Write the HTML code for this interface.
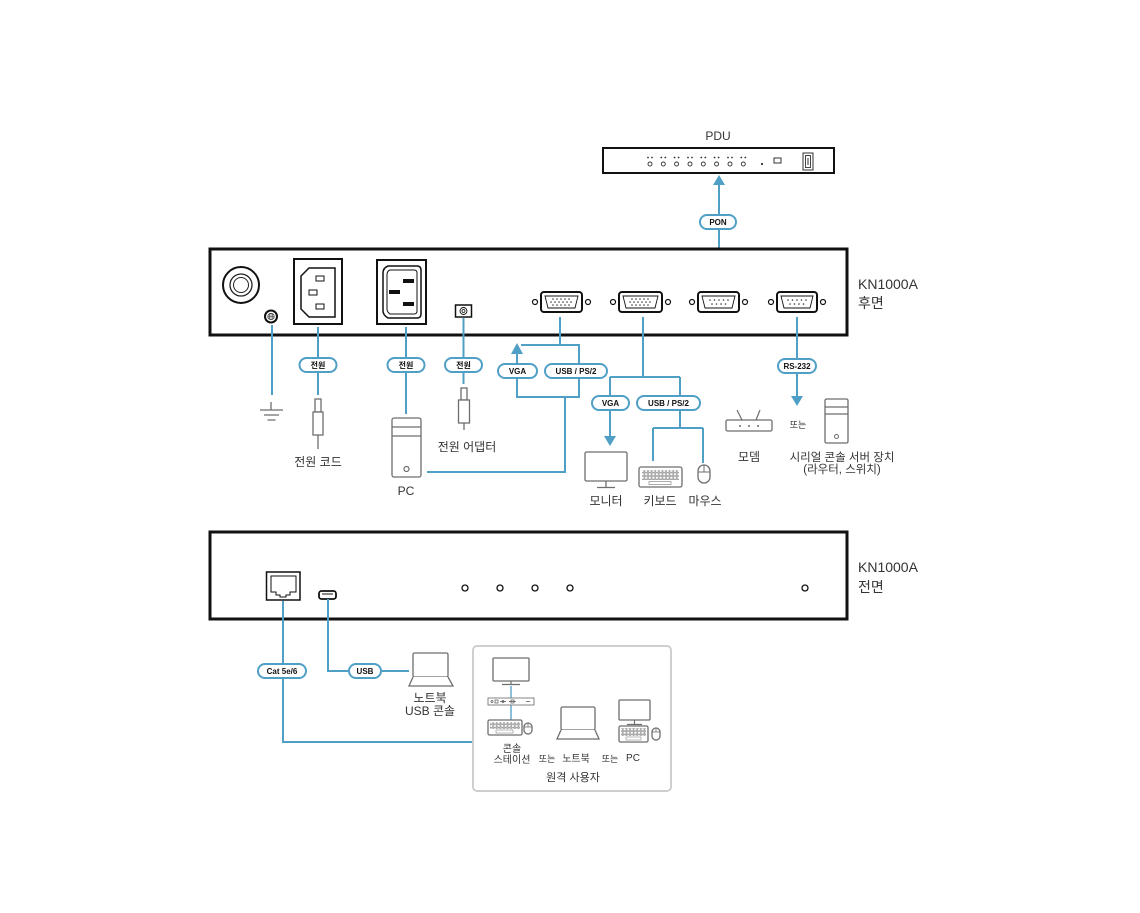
<!DOCTYPE html>
<html><head><meta charset="utf-8"><style>
html,body{margin:0;padding:0;background:#fff;}
svg{display:block;}
text{font-family:"Liberation Sans","Noto Sans CJK KR",sans-serif;fill:#333;}
.pt{font-size:8px;font-weight:bold;fill:#111;text-anchor:middle;}
.lb{font-size:12px;text-anchor:middle;}
.sm{font-size:10px;text-anchor:middle;}
.bl{stroke:#4f9fc6;stroke-width:2;fill:none;}
.dv{stroke:#6e6e6e;stroke-width:1.3;fill:#fff;}
.pill{fill:#fff;stroke:#4f9fc6;stroke-width:2;}
.ar{fill:#4f9fc6;}
.blk{stroke:#111;fill:none;}
</style></head><body>
<svg width="1140" height="913" viewBox="0 0 1140 913" xmlns="http://www.w3.org/2000/svg">
<defs>
<pattern id="keys" width="3.6" height="3.4" patternUnits="userSpaceOnUse">
<rect x="0.4" y="0.4" width="2.8" height="2.6" fill="none" stroke="#777" stroke-width="0.5"/>
</pattern>
</defs>
<rect width="1140" height="913" fill="#fff"/>

<!-- PDU -->
<text x="718" y="140" class="lb">PDU</text>
<rect x="603" y="148" width="231" height="25" fill="#fff" stroke="#111" stroke-width="2"/>
<g fill="none" stroke="#333" stroke-width="0.9">
<circle cx="650" cy="164" r="2"/><circle cx="663.3" cy="164" r="2"/><circle cx="676.6" cy="164" r="2"/><circle cx="690" cy="164" r="2"/>
<circle cx="703.3" cy="164" r="2"/><circle cx="716.6" cy="164" r="2"/><circle cx="730" cy="164" r="2"/><circle cx="743.3" cy="164" r="2"/>
</g>
<g fill="#333">
<circle cx="648" cy="157.5" r="0.9"/><circle cx="652" cy="157.5" r="0.9"/>
<circle cx="661.3" cy="157.5" r="0.9"/><circle cx="665.3" cy="157.5" r="0.9"/>
<circle cx="674.6" cy="157.5" r="0.9"/><circle cx="678.6" cy="157.5" r="0.9"/>
<circle cx="688" cy="157.5" r="0.9"/><circle cx="692" cy="157.5" r="0.9"/>
<circle cx="701.3" cy="157.5" r="0.9"/><circle cx="705.3" cy="157.5" r="0.9"/>
<circle cx="714.6" cy="157.5" r="0.9"/><circle cx="718.6" cy="157.5" r="0.9"/>
<circle cx="728" cy="157.5" r="0.9"/><circle cx="732" cy="157.5" r="0.9"/>
<circle cx="741.3" cy="157.5" r="0.9"/><circle cx="745.3" cy="157.5" r="0.9"/>
<circle cx="762" cy="164" r="1.1"/>
</g>
<rect x="774" y="158" width="7" height="5" fill="none" stroke="#333" stroke-width="1"/>
<rect x="803" y="153" width="10" height="17" fill="none" stroke="#333" stroke-width="1"/>
<rect x="805.5" y="155.5" width="5" height="12" fill="none" stroke="#333" stroke-width="0.9"/>
<line x1="808" y1="158" x2="808" y2="165" stroke="#333" stroke-width="1"/>

<!-- PON line -->
<path class="bl" d="M719,290 V183"/>
<polygon class="ar" points="719,175 713,185 725,185"/>
<rect class="pill" x="700" y="215" width="36" height="14" rx="7"/>
<text x="718" y="225" class="pt">PON</text>

<!-- REAR PANEL -->
<rect x="210" y="249" width="637" height="86" fill="#fff" stroke="#111" stroke-width="3"/>
<circle cx="241" cy="285" r="18" fill="none" stroke="#111" stroke-width="2"/>
<circle cx="241" cy="285" r="11" fill="none" stroke="#222" stroke-width="1.3"/>
<circle cx="241" cy="285" r="7.5" fill="none" stroke="#222" stroke-width="1"/>
<circle cx="271" cy="316.5" r="6" fill="none" stroke="#111" stroke-width="2"/>
<circle cx="271" cy="316.5" r="3.2" fill="none" stroke="#333" stroke-width="0.8"/>
<path d="M268,316.5 H274 M271,313.5 V319.5 M269.5,314 V319 M272.5,314 V319" stroke="#333" stroke-width="0.6"/>

<!-- C14 -->
<rect x="294" y="259" width="48" height="65" fill="#fff" stroke="#111" stroke-width="2"/>
<path d="M309,268 H335 V317 H309 L301,309 V276 Z" fill="none" stroke="#111" stroke-width="1.5"/>
<rect x="316" y="276" width="8" height="5" fill="none" stroke="#111" stroke-width="1"/>
<rect x="309" y="290" width="8" height="5" fill="none" stroke="#111" stroke-width="1"/>
<rect x="316" y="304" width="8" height="5" fill="none" stroke="#111" stroke-width="1"/>

<!-- C20 -->
<rect x="377" y="260" width="49" height="64" fill="#fff" stroke="#111" stroke-width="2"/>
<path d="M388,266 H417 Q421,266 421,270 V314 Q421,318 417,318 H388 Q383,315 383,311 V273 Q383,268 388,266 Z" fill="none" stroke="#111" stroke-width="1.5"/>
<path d="M390,270 H414 Q417,270 417,273 V311 Q417,314 414,314 H390 Q387,312 387,309 V275 Q387,271 390,270 Z" fill="none" stroke="#111" stroke-width="1"/>
<rect x="403" y="279" width="11" height="4" fill="#111"/>
<rect x="389" y="290" width="11" height="4" fill="#111"/>
<rect x="403" y="302" width="11" height="4" fill="#111"/>

<!-- DC jack -->
<rect x="455.5" y="305" width="16" height="12" fill="none" stroke="#111" stroke-width="1.5"/>
<circle cx="463.5" cy="311" r="3.5" fill="none" stroke="#111" stroke-width="0.9"/>
<circle cx="463.5" cy="311" r="1.5" fill="none" stroke="#111" stroke-width="0.8"/>

<!-- VGA 1 -->
<g stroke="#111" fill="none">
<circle cx="535" cy="302" r="2.5" stroke-width="1.2"/><circle cx="588" cy="302" r="2.5" stroke-width="1.2"/>
<rect x="541" y="292" width="41" height="20" rx="3" stroke-width="2"/>
<path d="M545,296 H578 L575,308 H548 Z" stroke-width="0.9"/>
<circle cx="613" cy="302" r="2.5" stroke-width="1.2"/><circle cx="668" cy="302" r="2.5" stroke-width="1.2"/>
<rect x="619" y="292" width="43" height="20" rx="3" stroke-width="2"/>
<path d="M623,296 H658 L655,308 H626 Z" stroke-width="0.9"/>
<circle cx="692" cy="302" r="2.5" stroke-width="1.2"/><circle cx="745" cy="302" r="2.5" stroke-width="1.2"/>
<rect x="698" y="292" width="41" height="20" rx="3" stroke-width="2"/>
<path d="M702,296 H735 L732,308 H705 Z" stroke-width="0.9"/>
<circle cx="771" cy="302" r="2.5" stroke-width="1.2"/><circle cx="823" cy="302" r="2.5" stroke-width="1.2"/>
<rect x="777" y="292" width="40" height="20" rx="3" stroke-width="2"/>
<path d="M781,296 H813 L810,308 H784 Z" stroke-width="0.9"/>
</g>
<g fill="#333">
<circle cx="553" cy="299" r="0.8"/><circle cx="557" cy="299" r="0.8"/><circle cx="561" cy="299" r="0.8"/><circle cx="565" cy="299" r="0.8"/><circle cx="569" cy="299" r="0.8"/>
<circle cx="551" cy="302" r="0.8"/><circle cx="555" cy="302" r="0.8"/><circle cx="559" cy="302" r="0.8"/><circle cx="563" cy="302" r="0.8"/><circle cx="567" cy="302" r="0.8"/><circle cx="571" cy="302" r="0.8"/>
<circle cx="553" cy="305" r="0.8"/><circle cx="557" cy="305" r="0.8"/><circle cx="561" cy="305" r="0.8"/><circle cx="565" cy="305" r="0.8"/><circle cx="569" cy="305" r="0.8"/>
<circle cx="632" cy="299" r="0.8"/><circle cx="636" cy="299" r="0.8"/><circle cx="640" cy="299" r="0.8"/><circle cx="644" cy="299" r="0.8"/><circle cx="648" cy="299" r="0.8"/>
<circle cx="630" cy="302" r="0.8"/><circle cx="634" cy="302" r="0.8"/><circle cx="638" cy="302" r="0.8"/><circle cx="642" cy="302" r="0.8"/><circle cx="646" cy="302" r="0.8"/><circle cx="650" cy="302" r="0.8"/>
<circle cx="632" cy="305" r="0.8"/><circle cx="636" cy="305" r="0.8"/><circle cx="640" cy="305" r="0.8"/><circle cx="644" cy="305" r="0.8"/><circle cx="648" cy="305" r="0.8"/>
<circle cx="710" cy="300" r="0.8"/><circle cx="714.5" cy="300" r="0.8"/><circle cx="719" cy="300" r="0.8"/><circle cx="723.5" cy="300" r="0.8"/><circle cx="728" cy="300" r="0.8"/>
<circle cx="712" cy="304" r="0.8"/><circle cx="716.5" cy="304" r="0.8"/><circle cx="721" cy="304" r="0.8"/><circle cx="725.5" cy="304" r="0.8"/>
<circle cx="788" cy="300" r="0.8"/><circle cx="792.5" cy="300" r="0.8"/><circle cx="797" cy="300" r="0.8"/><circle cx="801.5" cy="300" r="0.8"/><circle cx="806" cy="300" r="0.8"/>
<circle cx="790" cy="304" r="0.8"/><circle cx="794.5" cy="304" r="0.8"/><circle cx="799" cy="304" r="0.8"/><circle cx="803.5" cy="304" r="0.8"/>
</g>
<text x="858" y="289" style="font-size:14px;">KN1000A</text>
<text x="858" y="308" style="font-size:14px;">후면</text>

<!-- Rear connections -->
<path class="bl" d="M272,325 V395"/>
<path d="M271,402 V410 M260,410 H283 M264,415 H279 M267.5,420 H275.5" stroke="#6e6e6e" stroke-width="1.3" fill="none"/>

<path class="bl" d="M318,327 V395"/>
<rect class="dv" x="315" y="399" width="6" height="13"/>
<rect class="dv" x="313" y="412" width="10" height="23"/>
<path d="M318,435 V449" stroke="#6e6e6e" stroke-width="1.3"/>
<rect class="pill" x="299.5" y="358" width="37" height="14" rx="7"/>
<text x="318" y="368" class="pt">전원</text>
<text x="318" y="466" class="lb">전원 코드</text>

<path class="bl" d="M406,327 V414"/>
<rect class="pill" x="387.5" y="358" width="37" height="14" rx="7"/>
<text x="406" y="368" class="pt">전원</text>
<rect class="dv" x="392" y="418" width="29" height="59" rx="2"/>
<path d="M392,427 H421 M392,436 H421" stroke="#6e6e6e" stroke-width="1.3"/>
<circle cx="406.5" cy="469" r="2.5" fill="none" stroke="#6e6e6e" stroke-width="1.2"/>
<text x="406" y="495" class="lb">PC</text>

<path class="bl" d="M463.5,318 V384"/>
<rect class="pill" x="445" y="358" width="37" height="14" rx="7"/>
<text x="463.5" y="368" class="pt">전원</text>
<rect class="dv" x="461" y="388" width="6" height="12"/>
<rect class="dv" x="458.5" y="400" width="11" height="23"/>
<path d="M464,423 V430" stroke="#6e6e6e" stroke-width="1.3"/>
<text x="467" y="451" class="lb">전원 어댑터</text>

<!-- VGA1 bracket -->
<path class="bl" d="M560,317 V345 M521,345 H579 V397 H517 V352 M565,397 V472 H427"/>
<polygon class="ar" points="517,343 511,354 523,354"/>
<rect class="pill" x="498" y="364" width="39" height="14" rx="7"/>
<text x="517.5" y="374" class="pt">VGA</text>
<rect class="pill" x="545" y="364" width="62" height="14" rx="7"/>
<text x="576" y="374" class="pt">USB / PS/2</text>

<!-- VGA2 bracket -->
<path class="bl" d="M643,317 V377 M610,377 H680 M610,377 V438 M680,377 V428 M653,428 H703 M653,428 V461 M703,428 V463"/>
<polygon class="ar" points="610,446 604,436 616,436"/>
<rect class="pill" x="592" y="396" width="37" height="14" rx="7"/>
<text x="610.5" y="406" class="pt">VGA</text>
<rect class="pill" x="637" y="396" width="63" height="14" rx="7"/>
<text x="668.5" y="406" class="pt">USB / PS/2</text>

<rect class="dv" x="585" y="452" width="42" height="29" rx="1.5"/>
<path d="M606,481 V487 M597,487.5 H615" stroke="#6e6e6e" stroke-width="1.3"/>
<text x="606" y="505" class="lb">모니터</text>

<rect class="dv" x="639" y="467" width="43" height="20" rx="2"/>
<rect x="642" y="470" width="37" height="10" fill="url(#keys)"/>
<rect x="649" y="481.5" width="22" height="3" fill="none" stroke="#777" stroke-width="0.6"/>
<text x="660" y="505" class="lb">키보드</text>

<rect class="dv" x="698" y="465" width="12" height="18" rx="6"/>
<path d="M704,465 V472 M698,472 H710" stroke="#6e6e6e" stroke-width="1"/>
<text x="705" y="505" class="lb">마우스</text>

<!-- RS-232 -->
<path class="bl" d="M797,317 V398"/>
<polygon class="ar" points="797,406 791,396 803,396"/>
<rect class="pill" x="778" y="359" width="38" height="14" rx="7"/>
<text x="797" y="369" class="pt">RS-232</text>

<path d="M742,420 L737,410 M756,420 L760,410" stroke="#6e6e6e" stroke-width="1.2"/>
<rect class="dv" x="726" y="420" width="46" height="11" rx="1.5"/>
<g fill="#6e6e6e"><circle cx="740" cy="426" r="1"/><circle cx="749" cy="426" r="1"/><circle cx="758" cy="426" r="1"/></g>
<text x="749" y="461" class="lb">모뎀</text>
<text x="798" y="428" style="font-size:9px;text-anchor:middle;">또는</text>

<rect class="dv" x="825" y="399" width="23" height="44" rx="1.5"/>
<path d="M825,407 H848 M825,414 H848" stroke="#6e6e6e" stroke-width="1.2"/>
<circle cx="836.5" cy="436.5" r="2" fill="none" stroke="#6e6e6e" stroke-width="1.1"/>
<text x="842" y="461" style="font-size:11.5px;text-anchor:middle;">시리얼 콘솔 서버 장치</text>
<text x="842" y="473" style="font-size:11.5px;text-anchor:middle;">(라우터, 스위치)</text>

<!-- FRONT PANEL -->
<rect x="210" y="532" width="637" height="87" fill="#fff" stroke="#111" stroke-width="3"/>
<rect x="266.5" y="572" width="33.5" height="28" fill="none" stroke="#111" stroke-width="1.5"/>
<path d="M271,576 H296 V592 H290 V595 H286 V597 H280 V595 H276 V592 H271 Z" fill="none" stroke="#111" stroke-width="1"/>
<rect x="319" y="591" width="17" height="8" rx="2.5" fill="none" stroke="#111" stroke-width="1.8"/>
<line x1="322" y1="594" x2="333" y2="594" stroke="#111" stroke-width="1"/>
<g fill="none" stroke="#111" stroke-width="1.3">
<circle cx="465" cy="588" r="3"/><circle cx="500" cy="588" r="3"/><circle cx="535" cy="588" r="3"/><circle cx="570" cy="588" r="3"/><circle cx="805" cy="588" r="3"/>
</g>
<text x="858" y="572" style="font-size:14px;">KN1000A</text>
<text x="858" y="592" style="font-size:14px;">전면</text>

<!-- Front connections -->
<path class="bl" d="M283,601 V742 H474"/>
<rect class="pill" x="258" y="664" width="48" height="14" rx="7"/>
<text x="282" y="674" class="pt">Cat 5e/6</text>
<path class="bl" d="M328,599 V671 H409"/>
<rect class="pill" x="349" y="664" width="32" height="14" rx="7"/>
<text x="365" y="674" class="pt">USB</text>

<rect class="dv" x="413" y="653" width="35" height="24" rx="1.5"/>
<path d="M413,677 L409,686 H453 L448,677" class="dv"/>
<text x="430" y="702" class="lb">노트북</text>
<text x="430" y="715" class="lb">USB 콘솔</text>

<!-- Remote users box -->
<rect x="473" y="646" width="198" height="145" rx="4" fill="#fff" stroke="#cfcfcf" stroke-width="2"/>
<rect class="dv" x="493" y="658" width="36" height="23" rx="1"/>
<path d="M511,681 V684 M502,684.5 H520" stroke="#6e6e6e" stroke-width="1.2"/>
<path d="M511,686 V698 M511,705 V720" stroke="#4f9fc6" stroke-width="1.3"/>
<rect x="488" y="698" width="46" height="7" fill="#fff" stroke="#777" stroke-width="0.9"/>
<g fill="none" stroke="#555" stroke-width="0.7">
<circle cx="492" cy="701.5" r="1"/><rect x="495" y="700" width="3" height="3"/>
<path d="M500,701.5 H506 M509,701.5 H516 M526,701.5 H530"/>
<circle cx="503" cy="701.5" r="1"/><rect x="511" y="700" width="3" height="3"/>
</g>
<rect class="dv" x="488" y="720" width="34" height="15" rx="1.5"/>
<rect x="490" y="722" width="30" height="7" fill="url(#keys)"/>
<rect x="496" y="730" width="17" height="3" fill="none" stroke="#777" stroke-width="0.5"/>
<rect class="dv" x="524" y="723" width="8" height="11" rx="4"/>
<path d="M528,723 V727 M524,727 H532" stroke="#6e6e6e" stroke-width="0.8"/>
<text x="512" y="752" class="sm">콘솔</text>
<text x="512" y="763" class="sm">스테이션</text>
<text x="547" y="762" style="font-size:9px;text-anchor:middle;">또는</text>

<rect class="dv" x="561" y="707" width="34" height="23" rx="1.5"/>
<path d="M561,730 L557,739 H599 L595,730" class="dv"/>
<text x="576" y="762" class="sm">노트북</text>
<text x="610" y="762" style="font-size:9px;text-anchor:middle;">또는</text>

<rect class="dv" x="619" y="700" width="31" height="20" rx="1"/>
<path d="M634.5,720 V724 M627,724.5 H642" stroke="#6e6e6e" stroke-width="1.2"/>
<rect class="dv" x="619" y="726" width="29" height="16" rx="1.5"/>
<rect x="621" y="728" width="25" height="8" fill="url(#keys)"/>
<rect x="626" y="737" width="15" height="3" fill="none" stroke="#777" stroke-width="0.5"/>
<rect class="dv" x="652" y="728" width="8" height="12" rx="4"/>
<path d="M656,728 V732 M652,732 H660" stroke="#6e6e6e" stroke-width="0.8"/>
<text x="633" y="761" class="sm">PC</text>
<text x="573" y="781" style="font-size:11px;text-anchor:middle;">원격 사용자</text>
</svg>
</body></html>
